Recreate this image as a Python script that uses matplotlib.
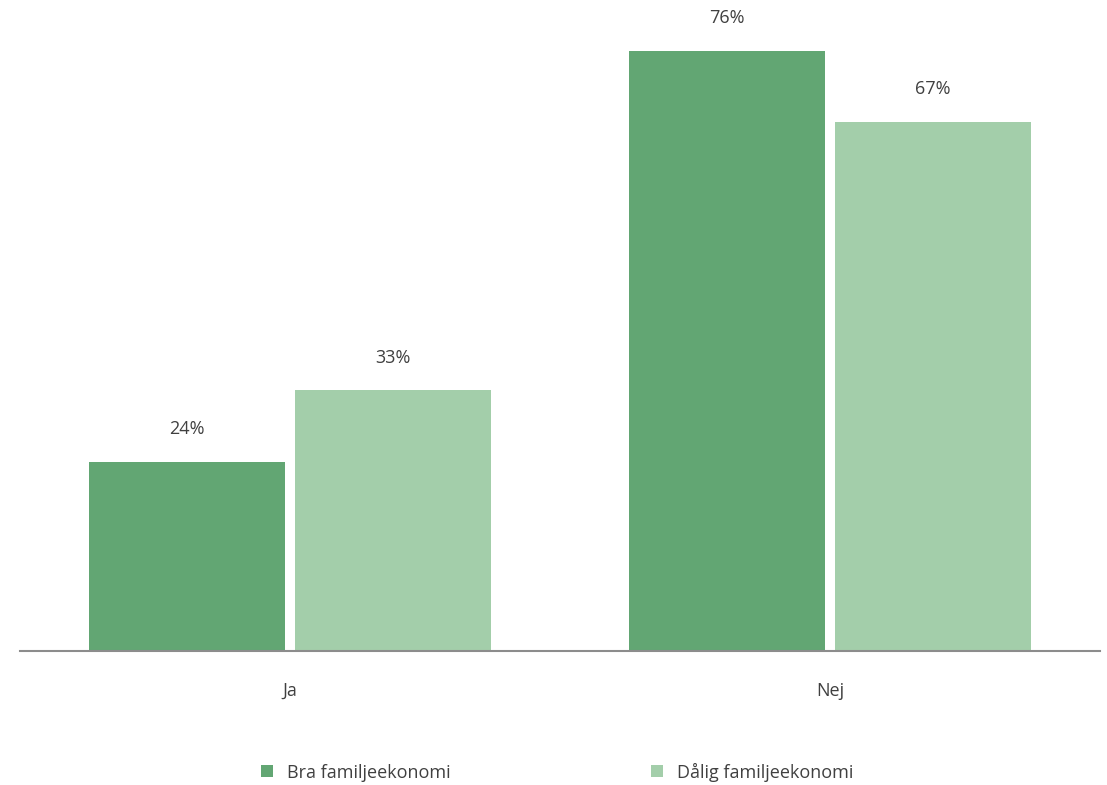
import matplotlib
matplotlib.use("Agg")
import matplotlib.pyplot as plt
import numpy as np

categories = ["Ja", "Nej"]
series_names = ["Bra familjeekonomi", "Dålig familjeekonomi"]
bra = [24, 76]
dalig = [33, 67]
colors = ["#62A673", "#A3CEAA"]

plt.rcParams['font.family'] = ['Open Sans', 'DejaVu Sans']
W, H = 1107, 785
fig = plt.figure(figsize=(W/100, H/100), dpi=100)
ax = fig.add_axes([20/W, (H-651)/H, 1080/W, 651/H])

x = np.arange(len(categories))
bw = 196/540
gap = 10/540
vals = [bra, dalig]
fs = 13
for i, (name, v) in enumerate(zip(series_names, vals)):
    off = (-1 if i == 0 else 1) * (bw/2 + gap/2)
    bars = ax.bar(x + off, v, width=bw, color=colors[i], label=name)
    for b, val in zip(bars, v):
        ax.annotate(f"{val}%", (b.get_x()+b.get_width()/2, val), xytext=(0, 17),
                    textcoords="offset points", ha="center", va="bottom",
                    fontsize=fs, color="#404040")

ax.set_xlim(-0.5, 1.5)
ax.set_ylim(0, 651/7.895)
ax.set_yticks([])
ax.set_xticks(x)
ax.set_xticklabels(categories, fontsize=fs, color="#404040")
ax.tick_params(axis='x', length=0, pad=22)
for s in ["top", "right", "left"]:
    ax.spines[s].set_visible(False)
ax.spines["bottom"].set_color("#8c8c8c")
ax.spines["bottom"].set_linewidth(1.5)

leg = fig.legend(loc="center left", bbox_to_anchor=(245/W, (H-772)/H), ncol=2,
                 frameon=False, fontsize=fs, handlelength=0.65, handleheight=0.65,
                 columnspacing=11.15, handletextpad=0.75)
for t in leg.get_texts():
    t.set_color("#404040")

fig.savefig("out.png", dpi=100)
